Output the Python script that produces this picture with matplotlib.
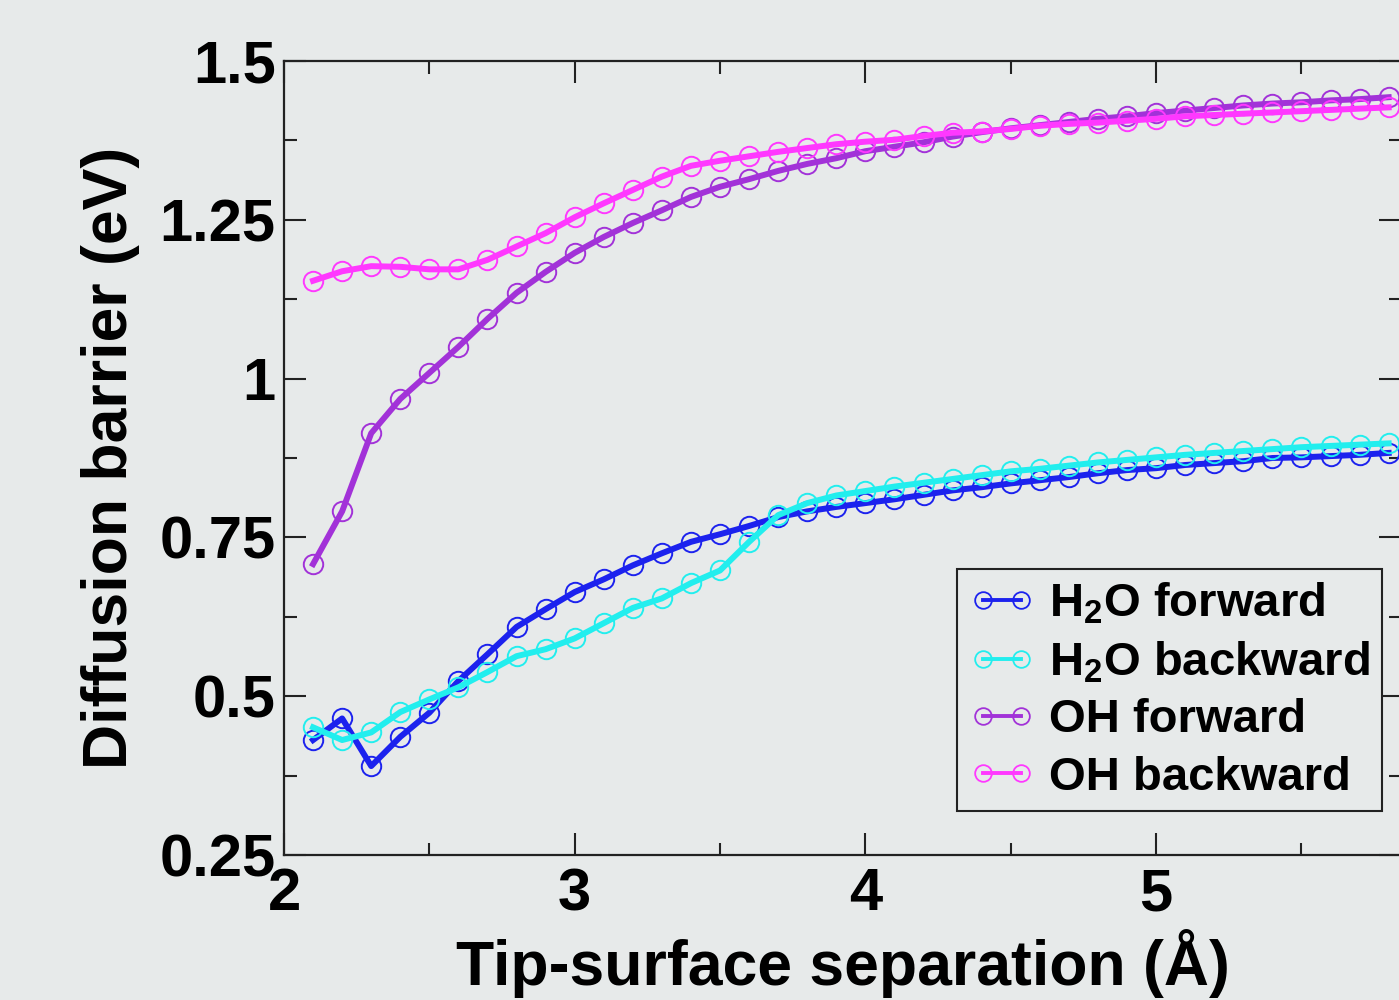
import matplotlib
matplotlib.use("Agg")
import matplotlib.pyplot as plt
from matplotlib.lines import Line2D
from matplotlib.ticker import MultipleLocator, FixedLocator

plt.rcParams['font.family'] = ['Liberation Sans', 'DejaVu Sans']
plt.rcParams['font.weight'] = 'bold'
plt.rcParams['mathtext.default'] = 'regular'

# tip-surface separation (Angstrom)
sep = [2.1, 2.2, 2.3, 2.4, 2.5, 2.6, 2.7, 2.8, 2.9, 3.0,
       3.1, 3.2, 3.3, 3.4, 3.5, 3.6, 3.7, 3.8, 3.9, 4.0,
       4.1, 4.2, 4.3, 4.4, 4.5, 4.6, 4.7, 4.8, 4.9, 5.0,
       5.1, 5.2, 5.3, 5.4, 5.5, 5.6, 5.7, 5.8]

h2o_fwd = [0.431, 0.465, 0.390, 0.436, 0.474, 0.524, 0.566, 0.609, 0.637, 0.664,
           0.684, 0.706, 0.725, 0.743, 0.755, 0.768, 0.782, 0.791, 0.798, 0.804,
           0.810, 0.817, 0.824, 0.829, 0.835, 0.840, 0.845, 0.851, 0.856, 0.859,
           0.864, 0.867, 0.870, 0.875, 0.876, 0.878, 0.880, 0.883]

h2o_bwd = [0.451, 0.431, 0.443, 0.475, 0.495, 0.514, 0.538, 0.563, 0.574, 0.591,
           0.615, 0.639, 0.654, 0.678, 0.698, 0.743, 0.785, 0.804, 0.816, 0.823,
           0.830, 0.836, 0.842, 0.848, 0.854, 0.858, 0.863, 0.868, 0.872, 0.876,
           0.880, 0.883, 0.886, 0.889, 0.892, 0.894, 0.896, 0.898]

oh_fwd = [0.708, 0.791, 0.914, 0.968, 1.009, 1.050, 1.094, 1.135, 1.168, 1.198,
          1.223, 1.245, 1.265, 1.286, 1.302, 1.314, 1.327, 1.338, 1.347, 1.358,
          1.365, 1.372, 1.381, 1.388, 1.394, 1.399, 1.404, 1.409, 1.413, 1.418,
          1.422, 1.426, 1.430, 1.433, 1.435, 1.438, 1.440, 1.443]

oh_bwd = [1.154, 1.169, 1.177, 1.176, 1.172, 1.172, 1.187, 1.208, 1.229, 1.254,
          1.276, 1.297, 1.318, 1.335, 1.343, 1.350, 1.357, 1.363, 1.369, 1.373,
          1.376, 1.382, 1.387, 1.389, 1.393, 1.398, 1.401, 1.403, 1.406, 1.409,
          1.413, 1.415, 1.417, 1.419, 1.421, 1.423, 1.425, 1.427]

labels = ['H$_2$O forward', 'H$_2$O backward', 'OH forward', 'OH backward']
colors = ['#1c22ee', '#22eeee', '#a232d8', '#ff38ff']
series = [h2o_fwd, h2o_bwd, oh_fwd, oh_bwd]

bg = '#e7eaea'
fig = plt.figure(figsize=(13.99, 10), dpi=100, facecolor=bg)
ax = fig.add_axes([284 / 1399, 1 - 855 / 1000, 1117 / 1399, 794 / 1000])
ax.set_facecolor(bg)

for ys, c in zip(series, colors):
    ax.plot(sep, ys, color=c, lw=4.3, marker='o', ms=14, mfc='none',
            mec=c, mew=1.4)

ax.set_xlim(2, 2 + 1117 / 290.7)
ax.set_ylim(0.25, 1.5)
ax.xaxis.set_major_locator(FixedLocator([2, 3, 4, 5]))
ax.xaxis.set_minor_locator(FixedLocator([2.5, 3.5, 4.5, 5.5]))
ax.yaxis.set_major_locator(MultipleLocator(0.25))
ax.yaxis.set_minor_locator(MultipleLocator(0.125))
ax.set_yticks([0.25, 0.5, 0.75, 1.0, 1.25, 1.5])
ax.set_yticklabels(['0.25', '0.5', '0.75', '1', '1.25', '1.5'])

ax.tick_params(which='both', direction='in', top=True, right=True,
               width=1.5, color='#222222', labelsize=43)
ax.tick_params(which='major', length=16)
ax.tick_params(which='minor', length=9)
ax.tick_params(axis='x', pad=9)
ax.tick_params(axis='y', pad=6)
for s in ax.spines.values():
    s.set_linewidth(1.6)
    s.set_color('#222222')

ax.set_xlabel('Tip-surface separation (Å)', fontsize=45, fontweight='bold',
              labelpad=5)
ax.set_ylabel('Diffusion barrier (eV)', fontsize=45, fontweight='bold',
              labelpad=14)

handles = [Line2D([], [], color=c, lw=2.8, marker='o', ms=12, mfc='none',
                  mec=c, mew=1.3) for c in colors]
leg = ax.legend(handles, labels, loc='lower right', bbox_to_anchor=(0.983, 0.055),
                fontsize=34, numpoints=2, handlelength=1.4, handletextpad=0.3,
                labelspacing=0.28, borderpad=0.25, borderaxespad=0,
                fancybox=False, framealpha=1, facecolor=bg, edgecolor='#222222')
leg.get_frame().set_linewidth(1.5)

fig.savefig('out.png', dpi=100, facecolor=bg)
